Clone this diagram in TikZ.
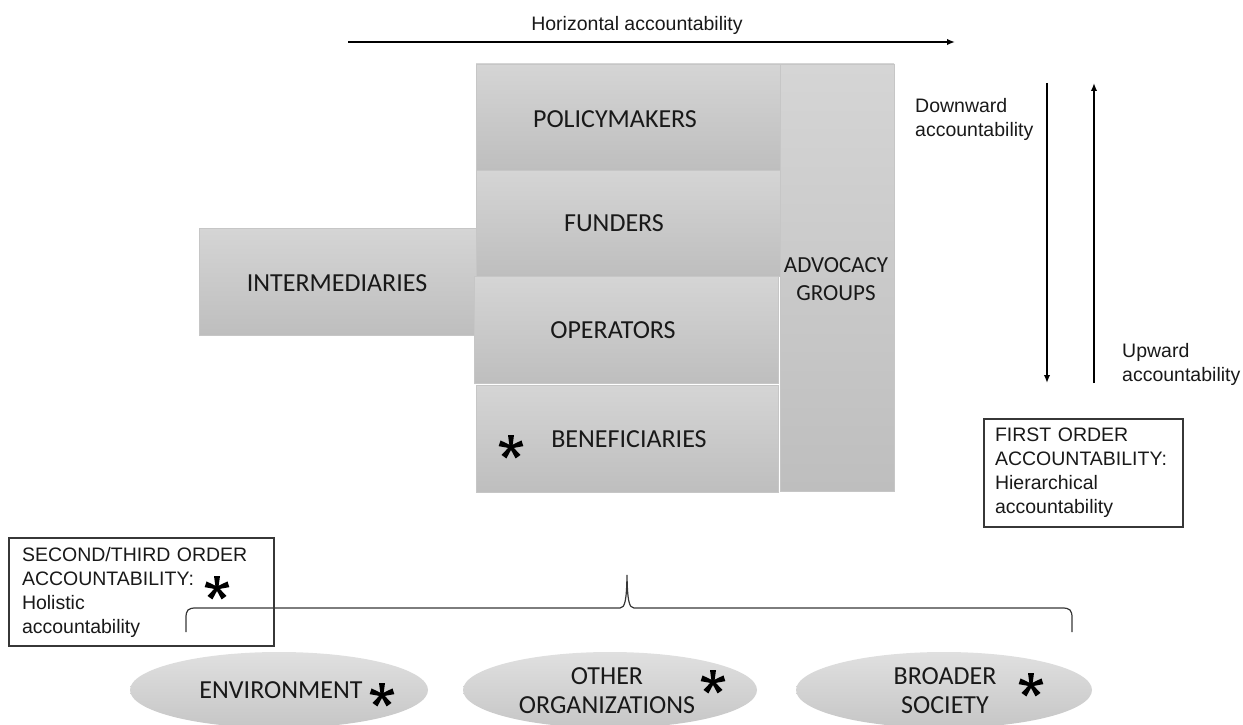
\documentclass[tikz,border=0pt]{standalone}
\usepackage{fontspec}
\setmainfont{Carlito}
\newfontfamily\arialf{Liberation Sans}
\usetikzlibrary{arrows.meta,shapes.geometric}
\definecolor{boxtop}{RGB}{213,213,213}
\definecolor{boxbot}{RGB}{190,190,190}
\definecolor{boxedge}{RGB}{198,198,198}
\definecolor{elltop}{RGB}{224,224,224}
\definecolor{ellbot}{RGB}{198,198,198}
\definecolor{linegray}{RGB}{55,55,55}
\tikzset{
  actor/.style={rectangle, draw=boxedge, line width=0.8pt, top color=boxtop, bottom color=boxbot, inner sep=0pt},
  lbl/.style={inner sep=0pt, font=\fontsize{26}{29}\selectfont, text=black!90},
  grp/.style={ellipse, top color=elltop, bottom color=ellbot, draw=none, inner sep=0pt},
  atxt/.style={inner sep=0pt, font=\arialf\fontsize{19.5}{24}\selectfont, text=black!90, align=left},
  tbox/.style={rectangle, draw=linegray, line width=1.2pt, inner ysep=0pt, align=left, font=\arialf\fontsize{19.5}{24}\selectfont, text=black!90},
  arr/.style={line width=1.6pt, -{Latex[length=8pt,width=6.5pt]}},
  brace/.style={line width=1.2pt, draw=linegray},
  astr/.pic={\foreach \a in {18,90,162,234,306} \fill[rotate=\a] (0,-1.4) -- (12,-3) -- (12,3) -- (0,1.4) -- cycle; \fill (0,0) circle (2.2);}
}
\begin{document}
\begin{tikzpicture}[x=1pt,y=-1pt]
\useasboundingbox (0,0) rectangle (1243,725);

% column boxes
\node[actor, minimum width=114pt, minimum height=427pt] (adv) at (837,277.5) {};
\node[actor, minimum width=277pt, minimum height=107pt] (int) at (337.5,281.5) {};
\node[actor, minimum width=304pt, minimum height=106pt] (pol) at (628,117) {};
\node[actor, minimum width=304pt, minimum height=106pt] (fun) at (628,223) {};
\node[actor, minimum width=304pt, minimum height=107pt] (ope) at (626,329.5) {};
\node[actor, minimum width=302pt, minimum height=107pt] (ben) at (627,438.5) {};

\node[lbl] (polL) at (615,119) {POLICYMAKERS};
\node[lbl] (funL) at (614,223) {FUNDERS};
\node[lbl] (intL) at (337,283) {INTERMEDIARIES};
\node[lbl] (opeL) at (613,330) {OPERATORS};
\node[lbl] (benL) at (629,439) {BENEFICIARIES};
\node[lbl, align=center, font=\fontsize{23}{28}\selectfont] (advL) at (836,279) {ADVOCACY\\GROUPS};
\pic at (511,447) {astr};

% accountability arrows
\coordinate (hs) at (348,42);
\coordinate (he) at (955,42);
\draw[arr] (hs) -- (he);
\node[atxt] (horL) at (637,25) {Horizontal accountability};

\coordinate (ds) at (1047,83);
\coordinate (de) at (1047,383);
\draw[arr] (ds) -- (de);
\coordinate (us) at (1094,383);
\coordinate (ue) at (1094,83);
\draw[arr] (us) -- (ue);
\node[atxt, anchor=west] (downL) at (915,119) {Downward\\accountability};
\node[atxt, anchor=west] (upL) at (1122,364) {Upward\\accountability};

% text boxes
\node[tbox, minimum width=199pt, minimum height=108pt, text width=177pt, inner xsep=11pt] (first) at (1083.5,473) {FIRST ORDER\\ACCOUNTABILITY:\\Hierarchical\\accountability};
\node[tbox, minimum width=265pt, minimum height=108pt, text width=239pt, inner xsep=13pt] (second) at (141.5,592) {SECOND/THIRD ORDER\\ACCOUNTABILITY:\\Holistic\\accountability};
\pic at (217,588) {astr};

% brace
\coordinate (bl) at (186,632);
\coordinate (bt) at (627,575);
\coordinate (br) at (1072,632);
\draw[brace] (bl) -- (186,618) .. controls (186,610) and (188,608) .. (196,608) -- (620,608)
  .. controls (625,608) and (626.6,600) .. (bt)
  .. controls (627.4,600) and (629,608) .. (634,608) -- (1062,608)
  .. controls (1070,608) and (1072,610) .. (1072,618) -- (br);

% ellipses
\node[grp, minimum width=298pt, minimum height=76pt] (env) at (279,690) {};
\node[grp, minimum width=294pt, minimum height=76pt] (oth) at (610,690) {};
\node[grp, minimum width=296pt, minimum height=76pt] (bro) at (944,690) {};
\node[lbl] (envL) at (281,690) {ENVIRONMENT};
\node[lbl, align=center] (othL) at (607,691) {OTHER\\ORGANIZATIONS};
\node[lbl, align=center] (broL) at (945,691) {BROADER\\SOCIETY};
\pic at (382,695) {astr};
\pic at (713,682) {astr};
\pic at (1031,685) {astr};
\end{tikzpicture}
\end{document}
